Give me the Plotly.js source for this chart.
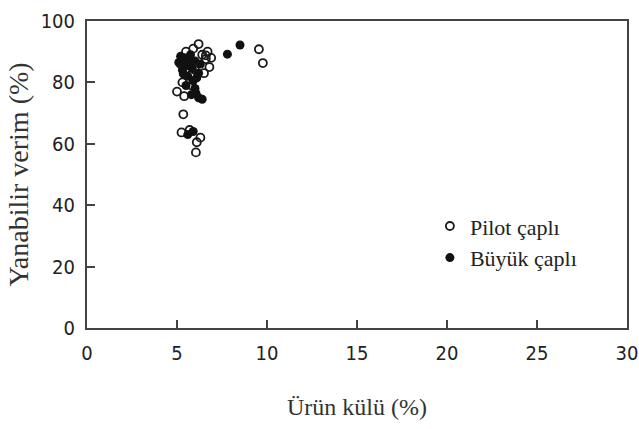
<!DOCTYPE html>
<html>
<head>
<meta charset="utf-8">
<script src="https://cdn.plot.ly/plotly-3.0.1.min.js"></script>
<style>
  html, body { margin: 0; padding: 0; background: #fff; }
  #chart { width: 639px; height: 429px; }
</style>
</head>
<body>
<div id="chart"></div>
<script>
// Pilot-scale cells: product ash (%) vs combustible yield (%)
const pilotAsh   = [6.2, 5.5, 5.9, 6.6, 6.8, 6.4, 6.9, 5.2, 5.6, 6.0, 6.5, 5.3, 5.0, 5.4, 5.8, 5.35, 5.25, 6.3, 6.05, 5.7, 9.55, 9.77, 6.7, 5.8, 6.1, 6.6];
const pilotYield = [92.5, 90, 91, 87.6, 85, 89, 88, 86, 87, 84, 83, 80, 77, 75.5, 79, 69.6, 63.7, 62, 57.2, 64.5, 90.8, 86.3, 90, 82.5, 60.5, 88.8];

// Full-size cells
const largeAsh   = [8.5, 7.8, 5.1, 5.4, 5.7, 6.0, 5.3, 5.6, 5.9, 6.2, 5.5, 6.0, 6.2, 6.4, 5.8, 5.6, 5.9, 5.2, 6.3, 5.75, 5.45, 5.85, 6.1, 5.65, 6.05, 5.35];
const largeYield = [92.2, 89.2, 86.5, 88, 85.5, 87, 84, 82, 80.5, 83, 79, 78, 75, 74.5, 76, 63, 64, 88.5, 86, 89, 85.2, 84.5, 81.5, 86.8, 76.5, 82.8];

const seriesNames = ['Pilot çaplı', 'Büyük çaplı'];
const xTicks = [0, 5, 10, 15, 20, 25, 30];
const yTicks = [0, 20, 40, 60, 80, 100];

const serif = 'Liberation Serif, Times New Roman, serif';
const narrow = 'Liberation Sans Narrow, DejaVu Sans Condensed, Arial, sans-serif';

const traces = [
  {
    x: pilotAsh, y: pilotYield, name: seriesNames[0],
    type: 'scatter', mode: 'markers',
    marker: { symbol: 'circle-open', size: 8, color: '#1a1a1a', line: { width: 1.8, color: '#1a1a1a' } }
  },
  {
    x: largeAsh, y: largeYield, name: seriesNames[1],
    type: 'scatter', mode: 'markers',
    marker: { symbol: 'circle', size: 9, color: '#111' }
  }
];

const axisCommon = {
  showgrid: false, zeroline: false,
  showline: true, mirror: true, linecolor: '#444', linewidth: 2,
  ticks: 'inside', ticklen: 8, tickwidth: 2, tickcolor: '#444',
  ticklabeloverflow: 'allow',
  tickfont: { family: narrow, size: 20, color: '#222' }
};

const layout = {
  width: 639, height: 429,
  margin: { l: 87, r: 12, t: 21, b: 101 },
  paper_bgcolor: '#fff', plot_bgcolor: '#fff',
  showlegend: true,
  legend: {
    x: 0.635, y: 0.40, xanchor: 'left', yanchor: 'top',
    bgcolor: 'rgba(0,0,0,0)', borderwidth: 0,
    font: { family: serif, size: 22, color: '#222' }
  },
  xaxis: Object.assign({}, axisCommon, {
    range: [0, 30], tickvals: xTicks, ticklabelstandoff: 6,
    title: { text: 'Ürün külü (%)', font: { family: serif, size: 24, color: '#333' }, standoff: 34 }
  }),
  yaxis: Object.assign({}, axisCommon, {
    range: [0, 100], tickvals: yTicks, ticklabelstandoff: 6,
    title: { text: 'Yanabilir verim (%)', font: { family: serif, size: 28, color: '#333' }, standoff: 4 }
  })
};

Plotly.newPlot('chart', traces, layout, { displayModeBar: false, staticPlot: true });
</script>
</body>
</html>
